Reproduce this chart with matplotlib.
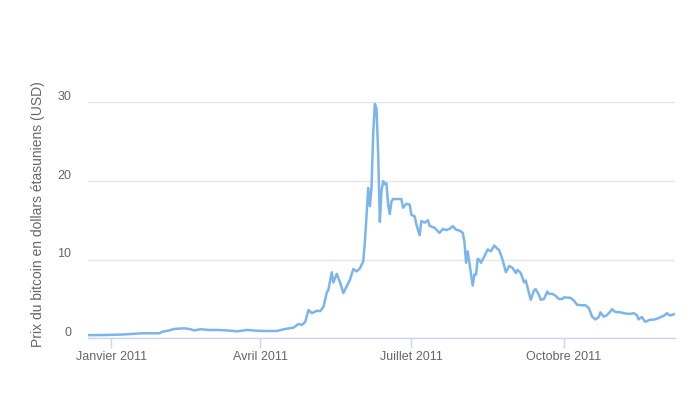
import pandas as pd
import matplotlib
matplotlib.use("Agg")
import matplotlib.pyplot as plt
from matplotlib.transforms import ScaledTranslation

# Bitcoin price (USD)
dates = [
    "2010-12-18", "2010-12-28", "2011-01-08", "2011-01-13", "2011-01-20",
    "2011-01-30", "2011-02-01", "2011-02-05", "2011-02-08", "2011-02-14",
    "2011-02-18", "2011-02-20", "2011-02-24", "2011-03-01", "2011-03-06",
    "2011-03-12", "2011-03-18", "2011-03-24", "2011-03-29", "2011-04-03",
    "2011-04-11", "2011-04-15", "2011-04-21", "2011-04-24", "2011-04-26",
    "2011-04-28", "2011-04-30", "2011-05-02", "2011-05-05", "2011-05-07",
    "2011-05-09", "2011-05-11", "2011-05-12", "2011-05-14", "2011-05-15",
    "2011-05-17", "2011-05-19", "2011-05-21", "2011-05-23", "2011-05-25",
    "2011-05-27", "2011-05-29", "2011-05-31", "2011-06-02", "2011-06-03",
    "2011-06-04", "2011-06-05", "2011-06-06", "2011-06-07", "2011-06-08",
    "2011-06-09", "2011-06-10", "2011-06-11", "2011-06-12", "2011-06-13",
    "2011-06-14", "2011-06-15", "2011-06-16", "2011-06-17", "2011-06-18",
    "2011-06-19", "2011-06-20", "2011-06-25", "2011-06-26", "2011-06-28",
    "2011-06-30", "2011-07-01", "2011-07-03", "2011-07-04", "2011-07-06",
    "2011-07-07", "2011-07-09", "2011-07-11", "2011-07-12", "2011-07-15",
    "2011-07-18", "2011-07-20", "2011-07-22", "2011-07-24", "2011-07-26",
    "2011-07-28", "2011-07-30", "2011-08-01", "2011-08-02", "2011-08-03",
    "2011-08-04", "2011-08-05", "2011-08-07", "2011-08-08", "2011-08-09",
    "2011-08-10", "2011-08-11", "2011-08-12", "2011-08-14", "2011-08-16",
    "2011-08-18", "2011-08-20", "2011-08-22", "2011-08-23", "2011-08-25",
    "2011-08-27", "2011-08-29", "2011-08-31", "2011-09-02", "2011-09-03",
    "2011-09-05", "2011-09-07", "2011-09-08", "2011-09-10", "2011-09-11",
    "2011-09-13", "2011-09-14", "2011-09-16", "2011-09-17", "2011-09-19",
    "2011-09-21", "2011-09-22", "2011-09-24", "2011-09-26", "2011-09-28",
    "2011-09-30", "2011-10-01", "2011-10-05", "2011-10-07", "2011-10-09",
    "2011-10-12", "2011-10-14", "2011-10-16", "2011-10-18", "2011-10-20",
    "2011-10-22", "2011-10-23", "2011-10-25", "2011-10-27", "2011-10-29",
    "2011-10-30", "2011-11-01", "2011-11-04", "2011-11-07", "2011-11-10",
    "2011-11-12", "2011-11-14", "2011-11-15", "2011-11-17", "2011-11-19",
    "2011-11-22", "2011-11-25", "2011-11-28", "2011-12-01", "2011-12-02",
    "2011-12-04", "2011-12-07",
]
prices = [
    0.40, 0.42, 0.48, 0.55, 0.64,
    0.64, 0.85, 1.00, 1.19, 1.27,
    1.15, 1.00, 1.15, 1.05, 1.06,
    1.00, 0.89, 1.06, 0.97, 0.93,
    0.93, 1.15, 1.36, 1.83, 1.70,
    2.10, 3.60, 3.20, 3.50, 3.45,
    4.00, 5.80, 6.20, 8.40, 7.10,
    8.20, 7.10, 5.75, 6.60, 7.45,
    8.80, 8.50, 8.90, 9.80, 12.3,
    15.7, 19.1, 16.8, 19.2, 26.0,
    29.8, 29.2, 23.4, 14.8, 18.7,
    20.0, 19.6, 19.7, 17.0, 15.8,
    17.4, 17.7, 17.7, 16.6, 17.1,
    17.0, 15.7, 15.5, 14.5, 13.1,
    14.9, 14.7, 15.0, 14.3, 14.05,
    13.4, 13.9, 13.75, 13.9, 14.25,
    13.8, 13.7, 13.4, 12.3, 9.6,
    11.05, 9.6, 6.7, 8.1, 8.1,
    10.1, 10.0, 9.6, 10.4, 11.3,
    11.05, 11.8, 11.35, 11.2, 10.0,
    8.4, 9.2, 8.95, 8.3, 8.7,
    8.3, 7.1, 7.35, 5.75, 4.9,
    6.1, 6.25, 5.5, 4.9, 5.0,
    5.95, 5.65, 5.65, 5.4, 5.0,
    5.0, 5.2, 5.15, 4.8, 4.25,
    4.2, 4.2, 3.85, 2.75, 2.4,
    2.7, 3.3, 2.75, 2.95, 3.4,
    3.7, 3.35, 3.3, 3.15, 3.1,
    3.2, 2.95, 2.4, 2.7, 2.1,
    2.35, 2.4, 2.65, 2.95, 3.2,
    2.9, 3.1,
]
tick_dates = ["2011-01-01", "2011-04-01", "2011-07-01", "2011-10-01"]
tick_labels = ["Janvier 2011", "Avril 2011", "Juillet 2011", "Octobre 2011"]
y_ticks = [0, 10, 20, 30]
y_title = "Prix du bitcoin en dollars étasuniens (USD)"

plt.rcParams["font.family"] = ["Liberation Sans", "DejaVu Sans"]

x = pd.to_datetime(dates)

fig = plt.figure(figsize=(7, 4.2), dpi=100)
ax = fig.add_axes([88 / 700, (420 - 338.3) / 420, 587 / 700, 236 / 420])

ax.plot(x, prices, color="#7cb5ec", linewidth=1.8, solid_joinstyle="round", zorder=3)

ax.set_xlim(x[0], x[-1])
ax.set_ylim(0, 30)
ax.set_yticks(y_ticks)
ax.set_xticks(pd.to_datetime(tick_dates))
ax.set_xticklabels(tick_labels)

ax.grid(axis="y", color="#e6e6e6", linewidth=1)
ax.set_axisbelow(True)
for side in ["top", "right", "left"]:
    ax.spines[side].set_visible(False)
ax.spines["bottom"].set_color("#ccd6eb")
ax.spines["bottom"].set_linewidth(1)
ax.spines["bottom"].set_zorder(4)

ax.tick_params(axis="x", colors="#ccd6eb", length=7.2, width=1, pad=2,
               labelcolor="#666666", labelsize=9)
ax.tick_params(axis="y", length=0, pad=12, labelcolor="#666666", labelsize=9)

# Highcharts puts the y labels a bit above their grid lines
shift = ScaledTranslation(0, 5 / 72, fig.dpi_scale_trans)
for lbl in ax.get_yticklabels():
    lbl.set_transform(lbl.get_transform() + shift)

ax.set_ylabel(y_title, color="#666666", fontsize=10)
ax.yaxis.set_label_coords(-43 / 587, 0.527)

fig.savefig("out.png", dpi=100)
plt.close(fig)
